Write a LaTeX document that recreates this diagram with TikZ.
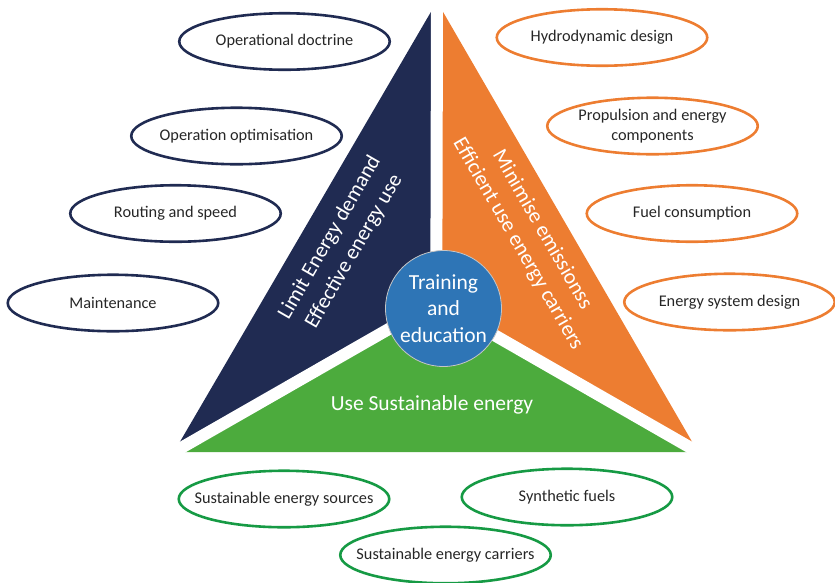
\documentclass[tikz,border=0pt]{standalone}
\usepackage{fontspec}
\setmainfont{Carlito}
\usetikzlibrary{shapes.geometric,calc}

\definecolor{navy}{RGB}{32,43,82}
\definecolor{orng}{RGB}{237,125,49}
\definecolor{grn}{RGB}{76,171,61}
\definecolor{grnline}{RGB}{22,154,68}
\definecolor{circblue}{RGB}{46,117,182}
\definecolor{txt}{RGB}{38,38,38}

\begin{document}
\begin{tikzpicture}[x=1pt,y=-1pt,
  bubble/.style={ellipse, draw, line width=2.6pt, minimum width=210.5pt,
    minimum height=56.5pt, inner xsep=-40pt, inner ysep=0pt, text=txt, align=center,
    font=\fontsize{16.3}{20}\selectfont},
  navybubble/.style={bubble, draw=navy},
  orngbubble/.style={bubble, draw=orng},
  grnbubble/.style={bubble, draw=grnline},
  bigtext/.style={text=white, align=center, font=\fontsize{21.5}{28}\selectfont},
  gap/.style={draw=white, line width=12pt, line cap=butt}]

\useasboundingbox (0,0) rectangle (835,582);

% corners of the large triangle and its centroid
\coordinate (A) at (437,1.5);
\coordinate (B) at (174,452);
\coordinate (C) at (698,452);
\coordinate (O) at (436.3,301.8);

% the three segments
\fill[navy] (A) -- (O) -- (B) -- cycle;
\fill[orng] (A) -- (C) -- (O) -- cycle;
\fill[grn]  (B) -- (O) -- (C) -- cycle;

% white separating gaps
\draw[gap] (O) -- ($(O)!1.08!(A)$);
\draw[gap] (O) -- ($(O)!1.08!(B)$);
\draw[gap] (O) -- ($(O)!1.08!(C)$);

% segment labels
\node[bigtext, rotate=60] (lim) at (342,244.5) {Limit Energy demand\\Effective energy use};
\node[bigtext, rotate=-60] (mini) at (530,237) {Minimise emissionss\\Efficient use energy carriers};
\node[bigtext] (sust) at (432,405) {Use Sustainable energy};

% centre
\node[circle, fill=circblue, draw=gray!45, line width=0.8pt, minimum size=116pt,
  inner sep=0pt, text=white, align=center, font=\fontsize{21.5}{26.5}\selectfont]
  (train) at (443.5,308.5) {Training\\and\\education};

% operational measures
\node[navybubble] (opdoc) at (284.5,41.5) {Operational doctrine};
\node[navybubble] (opopt) at (236.5,136) {Operation optimisation};
\node[navybubble] (route) at (175.5,213.5) {Routing and speed};
\node[navybubble] (maint) at (113,303) {Maintenance};

% technical measures
\node[orngbubble] (hydro) at (602,37.5) {Hydrodynamic design};
\node[orngbubble] (prop) at (652.5,126) {Propulsion and energy\\components};
\node[orngbubble] (fuel) at (692,213.5) {Fuel consumption};
\node[orngbubble] (esys) at (729.5,302) {Energy system design};

% energy measures
\node[grnbubble] (sources) at (284,499) {Sustainable energy sources};
\node[grnbubble] (synth) at (567,497) {Synthetic fuels};
\node[grnbubble] (carriers) at (445.5,555) {Sustainable energy carriers};

\end{tikzpicture}
\end{document}
